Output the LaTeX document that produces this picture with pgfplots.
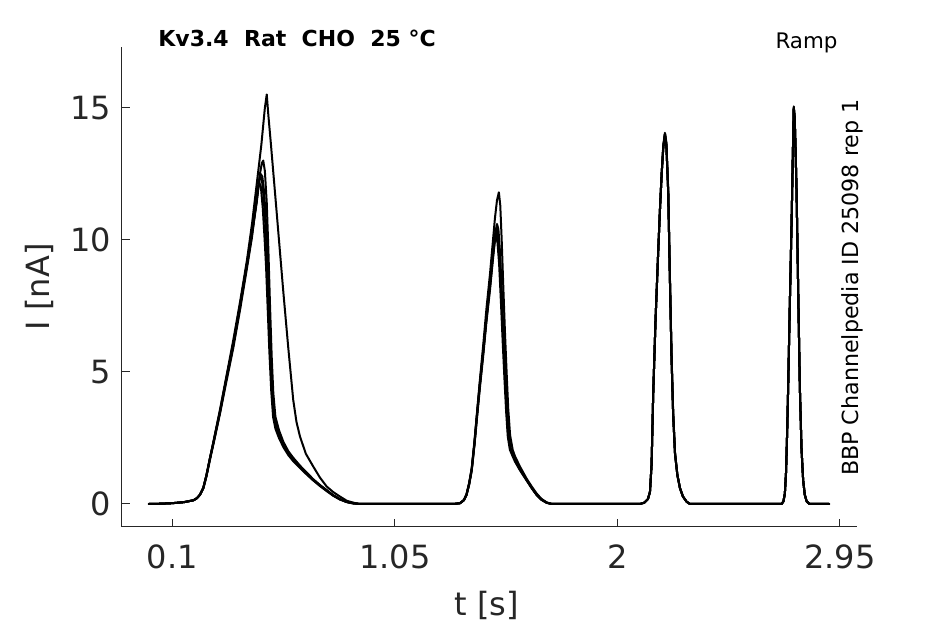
\documentclass[border=0pt]{standalone}
\usepackage{pgfplots}
\pgfplotsset{compat=1.18}
\usepackage{fontspec}
\setmainfont{DejaVu Sans}
\definecolor{axgray}{HTML}{262626}
\begin{document}
\begin{tikzpicture}
\path[use as bounding box] (-61pt,-48.65pt) rectangle (411.5pt,263.35pt);
\begin{axis}[
 at={(0,0)}, anchor=south west,
 scale only axis, width=367.5pt, height=240pt,
 xmin=-0.115, xmax=3.023, ymin=-0.86, ymax=17.31,
 axis x line*=bottom, axis y line*=left,
 axis line style={axgray, line width=0.5pt},
 tick align=inside, major tick length=3.8pt,
 tick style={axgray, line width=0.5pt},
 xtick={0.1,1.05,2,2.95}, xticklabels={0.1,1.05,2,2.95},
 ytick={0,5,10,15}, yticklabels={0,5,10,15},
 ticklabel style={font=\fontsize{16}{19}\selectfont, text=axgray},
 xticklabel style={yshift=-5.5pt},
 yticklabel style={xshift=-2pt},
 xlabel={t [s]}, ylabel={I [nA]},
 label style={font=\fontsize{16}{19}\selectfont, text=axgray},
 xlabel style={at={(axis description cs:0.496,-0.165)}, anchor=center},
 ylabel style={at={(axis description cs:-0.1129,0.5)}, anchor=center},
 clip=false,
 cycle list={{black, no markers}},
 every axis plot post/.append style={line width=1pt, line join=round, line cap=round},
]
% trace C
\addplot coordinates {
(0,0) (0.05,0.01) (0.10,0.03) (0.15,0.07) (0.19,0.14) (0.205,0.22) (0.218,0.35) (0.232,0.6) (0.246,1.1) (0.26,1.7) (0.275,2.3) (0.304,3.5) (0.33,4.7) (0.36,6.0) (0.39,7.5) (0.418,9.0) (0.44,10.2) (0.46,11.4) (0.468,12.0) (0.474,12.4) (0.482,12.3) (0.49,11.6) (0.497,10.6) (0.503,9.6) (0.51,7.8) (0.517,6.0) (0.524,4.5) (0.531,3.5) (0.54,3.0) (0.555,2.6) (0.574,2.2) (0.595,1.9) (0.616,1.67) (0.645,1.4) (0.673,1.15) (0.70,0.92) (0.73,0.70) (0.76,0.5) (0.787,0.32) (0.815,0.18) (0.844,0.08) (0.87,0.03) (0.9,0) (1.0,0) (1.2,0) (1.3,0) (1.328,0.03) (1.345,0.15) (1.356,0.35) (1.367,0.75) (1.378,1.3) (1.39,2.3) (1.399,3.2) (1.413,4.5) (1.427,5.7) (1.441,7.0) (1.456,8.2) (1.468,9.3) (1.477,10.0) (1.484,10.3) (1.49,10.1) (1.497,9.3) (1.505,7.8) (1.513,6.2) (1.52,4.9) (1.527,3.6) (1.534,2.6) (1.542,2.1) (1.553,1.85) (1.563,1.65) (1.585,1.3) (1.613,0.9) (1.635,0.6) (1.655,0.35) (1.675,0.17) (1.698,0.05) (1.72,0) (2.0,0) (2.096,0) (2.115,0.05) (2.13,0.18) (2.139,0.45) (2.146,1.5) (2.153,4.2) (2.163,7.0) (2.174,9.5) (2.182,11.2) (2.189,12.5) (2.196,13.5) (2.203,14.0) (2.209,13.6) (2.217,11.8) (2.224,8.6) (2.231,5.6) (2.238,3.4) (2.246,1.9) (2.256,1.1) (2.267,0.6) (2.28,0.28) (2.296,0.08) (2.31,0) (2.6,0) (2.701,0) (2.709,0.1) (2.715,0.4) (2.72,1.2) (2.725,2.8) (2.729,4.4) (2.736,7.5) (2.744,10.8) (2.749,13.2) (2.753,15.0) (2.757,14.6) (2.761,13.3) (2.765,11.8) (2.772,8.0) (2.779,4.4) (2.786,2.1) (2.793,0.9) (2.80,0.35) (2.808,0.1) (2.82,0) (2.904,0)
};
% trace A
\addplot coordinates {
(0,0) (0.05,0.01) (0.10,0.03) (0.15,0.07) (0.19,0.14) (0.205,0.22) (0.218,0.35) (0.232,0.6) (0.246,1.1) (0.26,1.7) (0.275,2.35) (0.304,3.6) (0.33,4.8) (0.36,6.2) (0.39,7.7) (0.418,9.2) (0.44,10.6) (0.46,12.1) (0.48,13.6) (0.495,15.0) (0.503,15.5) (0.51,14.7) (0.52,13.7) (0.54,11.6) (0.557,9.8) (0.574,8.0) (0.595,5.9) (0.616,3.94) (0.63,3.1) (0.645,2.55) (0.67,1.9) (0.702,1.41) (0.73,1.0) (0.759,0.66) (0.787,0.45) (0.816,0.28) (0.845,0.12) (0.873,0.05) (0.9,0) (1.0,0) (1.2,0) (1.3,0) (1.328,0.03) (1.345,0.15) (1.356,0.38) (1.367,0.8) (1.378,1.35) (1.39,2.4) (1.399,3.3) (1.413,4.7) (1.427,6.0) (1.441,7.4) (1.456,8.7) (1.468,9.9) (1.477,10.8) (1.486,11.5) (1.494,11.8) (1.50,11.3) (1.506,10.0) (1.513,8.2) (1.52,6.5) (1.527,5.0) (1.534,3.6) (1.542,2.6) (1.553,2.05) (1.563,1.8) (1.585,1.4) (1.613,0.95) (1.635,0.65) (1.655,0.4) (1.675,0.2) (1.698,0.06) (1.72,0) (2.0,0) (2.096,0) (2.115,0.05) (2.13,0.18) (2.139,0.45) (2.146,1.5) (2.153,4.2) (2.163,7.0) (2.174,9.5) (2.182,11.2) (2.189,12.5) (2.196,13.6) (2.203,14.05) (2.209,13.7) (2.217,11.9) (2.224,8.7) (2.231,5.7) (2.238,3.5) (2.246,1.95) (2.256,1.1) (2.267,0.62) (2.28,0.28) (2.296,0.08) (2.31,0) (2.6,0) (2.701,0) (2.709,0.1) (2.715,0.4) (2.72,1.2) (2.725,2.8) (2.729,4.4) (2.736,7.5) (2.744,10.8) (2.749,13.2) (2.753,15.05) (2.757,14.6) (2.761,13.3) (2.765,11.8) (2.772,8.0) (2.779,4.4) (2.786,2.1) (2.793,0.9) (2.80,0.35) (2.808,0.1) (2.82,0) (2.904,0)
};
% trace B
\addplot coordinates {
(0,0) (0.05,0.01) (0.10,0.03) (0.15,0.07) (0.19,0.14) (0.205,0.22) (0.218,0.35) (0.232,0.6) (0.246,1.1) (0.26,1.7) (0.275,2.3) (0.304,3.5) (0.33,4.7) (0.36,6.05) (0.39,7.6) (0.418,9.1) (0.44,10.3) (0.46,11.5) (0.474,12.5) (0.482,12.9) (0.488,13.0) (0.495,12.6) (0.503,11.4) (0.51,9.6) (0.517,7.5) (0.524,5.6) (0.531,4.2) (0.54,3.3) (0.555,2.8) (0.574,2.35) (0.595,2.0) (0.616,1.75) (0.645,1.45) (0.673,1.2) (0.70,0.95) (0.73,0.72) (0.76,0.52) (0.787,0.33) (0.815,0.19) (0.844,0.08) (0.87,0.03) (0.9,0) (1.0,0) (1.2,0) (1.3,0) (1.328,0.03) (1.345,0.15) (1.356,0.36) (1.367,0.77) (1.378,1.32) (1.39,2.35) (1.399,3.25) (1.413,4.6) (1.427,5.8) (1.441,7.1) (1.456,8.4) (1.468,9.5) (1.477,10.2) (1.486,10.6) (1.492,10.4) (1.499,9.5) (1.507,7.9) (1.514,6.3) (1.521,4.9) (1.528,3.6) (1.535,2.65) (1.543,2.15) (1.553,1.9) (1.563,1.7) (1.585,1.33) (1.613,0.92) (1.635,0.62) (1.655,0.36) (1.675,0.18) (1.698,0.05) (1.72,0) (2.0,0) (2.096,0) (2.115,0.05) (2.13,0.18) (2.139,0.45) (2.146,1.5) (2.153,4.2) (2.163,7.0) (2.174,9.5) (2.182,11.2) (2.189,12.5) (2.196,13.5) (2.203,13.95) (2.209,13.6) (2.217,11.8) (2.224,8.6) (2.231,5.6) (2.238,3.4) (2.246,1.9) (2.256,1.1) (2.267,0.6) (2.28,0.28) (2.296,0.08) (2.31,0) (2.6,0) (2.701,0) (2.709,0.1) (2.715,0.4) (2.72,1.2) (2.725,2.8) (2.729,4.4) (2.736,7.5) (2.744,10.8) (2.749,13.2) (2.753,14.95) (2.757,14.6) (2.761,13.3) (2.765,11.8) (2.772,8.0) (2.779,4.4) (2.786,2.1) (2.793,0.9) (2.80,0.35) (2.808,0.1) (2.82,0) (2.904,0)
};
% trace D
\addplot coordinates {
(0,0) (0.05,0.01) (0.10,0.03) (0.15,0.07) (0.19,0.14) (0.205,0.22) (0.218,0.34) (0.232,0.58) (0.246,1.05) (0.26,1.65) (0.275,2.25) (0.304,3.45) (0.33,4.6) (0.36,5.9) (0.39,7.4) (0.418,8.9) (0.44,10.1) (0.455,11.2) (0.463,11.8) (0.470,12.2) (0.478,12.0) (0.486,11.2) (0.494,10.0) (0.5,9.0) (0.507,7.4) (0.514,5.8) (0.522,4.3) (0.53,3.3) (0.54,2.85) (0.555,2.5) (0.574,2.15) (0.595,1.85) (0.616,1.62) (0.645,1.36) (0.673,1.12) (0.70,0.9) (0.73,0.68) (0.76,0.48) (0.787,0.31) (0.815,0.17) (0.844,0.07) (0.87,0.02) (0.9,0) (1.0,0) (1.2,0) (1.3,0) (1.328,0.03) (1.345,0.14) (1.356,0.34) (1.367,0.72) (1.378,1.25) (1.39,2.25) (1.399,3.1) (1.413,4.4) (1.427,5.6) (1.441,6.9) (1.456,8.1) (1.468,9.2) (1.476,9.9) (1.482,10.15) (1.488,9.9) (1.495,9.1) (1.503,7.6) (1.511,6.0) (1.518,4.7) (1.525,3.5) (1.532,2.55) (1.541,2.05) (1.553,1.8) (1.563,1.6) (1.585,1.26) (1.613,0.88) (1.635,0.58) (1.655,0.34) (1.675,0.16) (1.698,0.04) (1.72,0) (2.0,0) (2.096,0) (2.115,0.05) (2.13,0.18) (2.139,0.45) (2.146,1.5) (2.153,4.2) (2.163,7.0) (2.174,9.5) (2.182,11.2) (2.189,12.5) (2.196,13.5) (2.203,14.0) (2.209,13.6) (2.217,11.8) (2.224,8.6) (2.231,5.6) (2.238,3.4) (2.246,1.9) (2.256,1.1) (2.267,0.6) (2.28,0.28) (2.296,0.08) (2.31,0) (2.6,0) (2.701,0) (2.709,0.1) (2.715,0.4) (2.72,1.2) (2.725,2.8) (2.729,4.4) (2.736,7.5) (2.744,10.8) (2.749,13.2) (2.753,15.0) (2.757,14.6) (2.761,13.3) (2.765,11.8) (2.772,8.0) (2.779,4.4) (2.786,2.1) (2.793,0.9) (2.80,0.35) (2.808,0.1) (2.82,0) (2.904,0)
};
% trace E
\addplot coordinates {
(0,0) (0.05,0.01) (0.10,0.03) (0.15,0.07) (0.19,0.14) (0.205,0.22) (0.218,0.36) (0.232,0.62) (0.246,1.12) (0.26,1.72) (0.275,2.32) (0.304,3.55) (0.33,4.75) (0.36,6.05) (0.39,7.55) (0.418,9.05) (0.44,10.25) (0.46,11.5) (0.468,12.1) (0.476,12.5) (0.484,12.4) (0.492,11.8) (0.5,10.6) (0.507,9.0) (0.514,7.1) (0.521,5.3) (0.528,4.0) (0.537,3.2) (0.55,2.75) (0.574,2.25) (0.595,1.95) (0.616,1.7) (0.645,1.42) (0.673,1.17) (0.70,0.93) (0.73,0.71) (0.76,0.5) (0.787,0.33) (0.815,0.18) (0.844,0.08) (0.87,0.03) (0.9,0) (1.0,0) (1.2,0) (1.3,0) (1.328,0.03) (1.345,0.15) (1.356,0.35) (1.367,0.76) (1.378,1.3) (1.39,2.3) (1.399,3.2) (1.413,4.55) (1.427,5.75) (1.441,7.05) (1.456,8.3) (1.468,9.4) (1.477,10.15) (1.485,10.45) (1.491,10.25) (1.498,9.4) (1.506,7.9) (1.514,6.2) (1.521,4.85) (1.528,3.6) (1.535,2.6) (1.543,2.1) (1.553,1.87) (1.563,1.67) (1.585,1.3) (1.613,0.9) (1.635,0.6) (1.655,0.35) (1.675,0.17) (1.698,0.05) (1.72,0) (2.0,0) (2.096,0) (2.115,0.05) (2.13,0.18) (2.139,0.45) (2.146,1.5) (2.153,4.2) (2.163,7.0) (2.174,9.5) (2.182,11.2) (2.189,12.5) (2.196,13.5) (2.203,14.0) (2.209,13.6) (2.217,11.8) (2.224,8.6) (2.231,5.6) (2.238,3.4) (2.246,1.9) (2.256,1.1) (2.267,0.6) (2.28,0.28) (2.296,0.08) (2.31,0) (2.6,0) (2.701,0) (2.709,0.1) (2.715,0.4) (2.72,1.2) (2.725,2.8) (2.729,4.4) (2.736,7.5) (2.744,10.8) (2.749,13.2) (2.753,15.0) (2.757,14.6) (2.761,13.3) (2.765,11.8) (2.772,8.0) (2.779,4.4) (2.786,2.1) (2.793,0.9) (2.80,0.35) (2.808,0.1) (2.82,0) (2.904,0)
};
\node[anchor=base west, inner sep=0pt, font=\fontsize{11}{13}\selectfont\bfseries] at (axis description cs:0.049,1) {Kv3.4\ \ Rat\ \ CHO\ \ 25 °C};
\node[anchor=base east, inner sep=0pt, font=\fontsize{10.7}{13}\selectfont] at (axis description cs:0.974,0.997) {Ramp};
\node[anchor=base, inner sep=0pt, rotate=90, font=\fontsize{11.1}{13}\selectfont] at (axis description cs:1.0018,0.498) {BBP Channelpedia ID 25098 rep 1};
\end{axis}
\end{tikzpicture}
\end{document}
